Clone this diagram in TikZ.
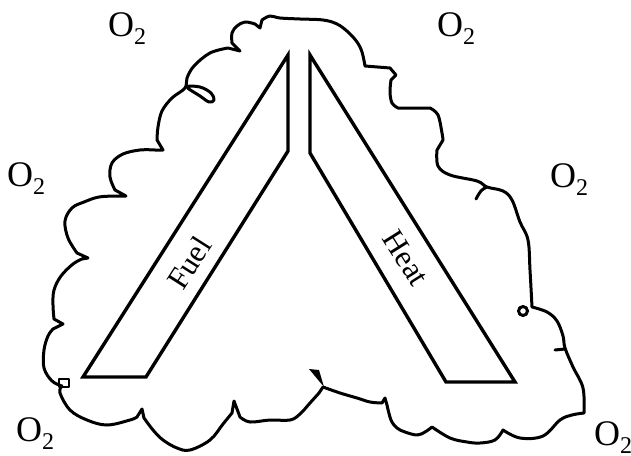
\documentclass[tikz,border=0pt]{standalone}
\usepackage{fontspec}
\setmainfont{Liberation Serif}
\newcommand{\oxy}{O\raisebox{-8.5pt}{\fontsize{24}{24}\selectfont 2}}
\begin{document}
\begin{tikzpicture}[x=1pt,y=-1pt,
  bar/.style={line width=3.4pt, line join=miter, miter limit=20},
  cloud/.style={line width=3pt, line join=round, line cap=round},
  lbl/.style={font=\fontsize{36}{36}\selectfont, inner sep=0pt, anchor=base west},
  word/.style={font=\fontsize{31}{31}\selectfont, inner sep=0pt},
  sm/.style={smooth, tension=0.6}]
\useasboundingbox (0,0) rectangle (631,455);

% cloud outline
\draw[cloud]
  plot[sm] coordinates {(62,386) (52,381) (44,368) (44,350) (48,336) (53,329)}
  -- (63,324) -- (54,319)
  -- plot[sm] coordinates {(54,319) (53,305) (54,290) (61,276) (73,264) (82,259)}
  -- (88,258) -- (77,253)
  -- plot[sm] coordinates {(77,253) (68,238) (65,221) (72,208) (84,202) (99,197) (118,196)}
  -- (126,196) -- (115,190)
  -- plot[sm] coordinates {(115,190) (110,177) (112,163) (123,154) (140,150) (155,150)}
  -- (163,150) -- (157,140)
  -- plot[sm] coordinates {(157,140) (158,127) (162,111) (172,98) (185,88) (187,78) (194,66) (210,53) (228,48)}
  -- (240,51) -- (232,43)
  -- plot[sm] coordinates {(232,43) (232,33) (237,26) (245,22) (255,24)}
  -- (260,28) -- (262,20)
  -- plot[sm] coordinates {(262,20) (270,16) (280,18) (300,19) (323,20) (337,24) (348,32) (357,42) (362,52) (365,66)}
  -- (390,68) -- (396,75) -- (391,80)
  -- plot[sm] coordinates {(391,80) (390,92) (392,103) (398,108)}
  -- (430,108)
  -- plot[sm] coordinates {(430,108) (438,115) (442,133) (443,140)}
  -- (437,150)
  -- plot[sm] coordinates {(437,150) (438,166) (450,175) (477,181) (487,187) (503,191) (512,200) (520,222) (528,240) (530,270) (532,307)}
  -- plot[sm] coordinates {(532,307) (547,312) (557,321) (563,336) (565,348) (573,367) (583,388) (584,413)}
  -- plot[sm] coordinates {(584,413) (572,415) (560,420) (543,436) (520,438) (503,430)}
  -- plot[sm] coordinates {(503,430) (495,440) (480,443) (467,442) (450,438) (432,427)}
  -- plot[sm] coordinates {(432,427) (425,432) (417,435) (405,432) (397,428) (391,420) (387,405)}
  -- (385,398) -- (382,403)
  -- plot[sm] coordinates {(382,403) (370,402) (357,398) (340,393) (323,387)}
  -- (319,393)
  -- plot[sm] coordinates {(319,393) (310,403) (300,414) (290,420) (270,420) (250,422) (240,417)}
  -- (234,401) -- (232,413)
  -- plot[sm] coordinates {(232,413) (223,424) (210,440) (190,450) (177,448) (163,440) (153,430) (144,418)}
  -- (142,409) -- (137,417)
  -- plot[sm] coordinates {(137,417) (130,420) (107,425) (87,420) (70,410) (60,393) (62,386)};

% small details of the outline
\draw[cloud] plot[smooth cycle, tension=0.6] coordinates {(187,87) (200,87) (211,93) (214,100) (209,102) (200,96)};
\draw[cloud] (487,187) .. controls (481,190) .. (476,199);
\draw[cloud] (523,311) circle[radius=4.5];
\draw[cloud] (565,349) -- (555,350);
\draw[cloud, line width=2.2pt] (59,379) rectangle (69,387);
\fill (309,369) -- (319,370) -- (324,387) -- cycle;

% bars
\draw[bar] (288,55) -- (288,151) -- (146,377) -- (83,377) -- cycle;
\draw[bar] (310,55) -- (310,153) -- (446,382) -- (515,382) -- cycle;

\node[word, rotate=57.4] (fuel) at (189,263) {Fuel};
\node[word, rotate=-57.9] (heat) at (406,258) {Heat};

% oxygen labels
\node[lbl] (o1) at (108,36) {\oxy};
\node[lbl] (o2) at (437,36) {\oxy};
\node[lbl] (o3) at (7,186) {\oxy};
\node[lbl] (o4) at (550,187) {\oxy};
\node[lbl] (o5) at (16,441) {\oxy};
\node[lbl] (o6) at (594,445) {\oxy};
\end{tikzpicture}
\end{document}
